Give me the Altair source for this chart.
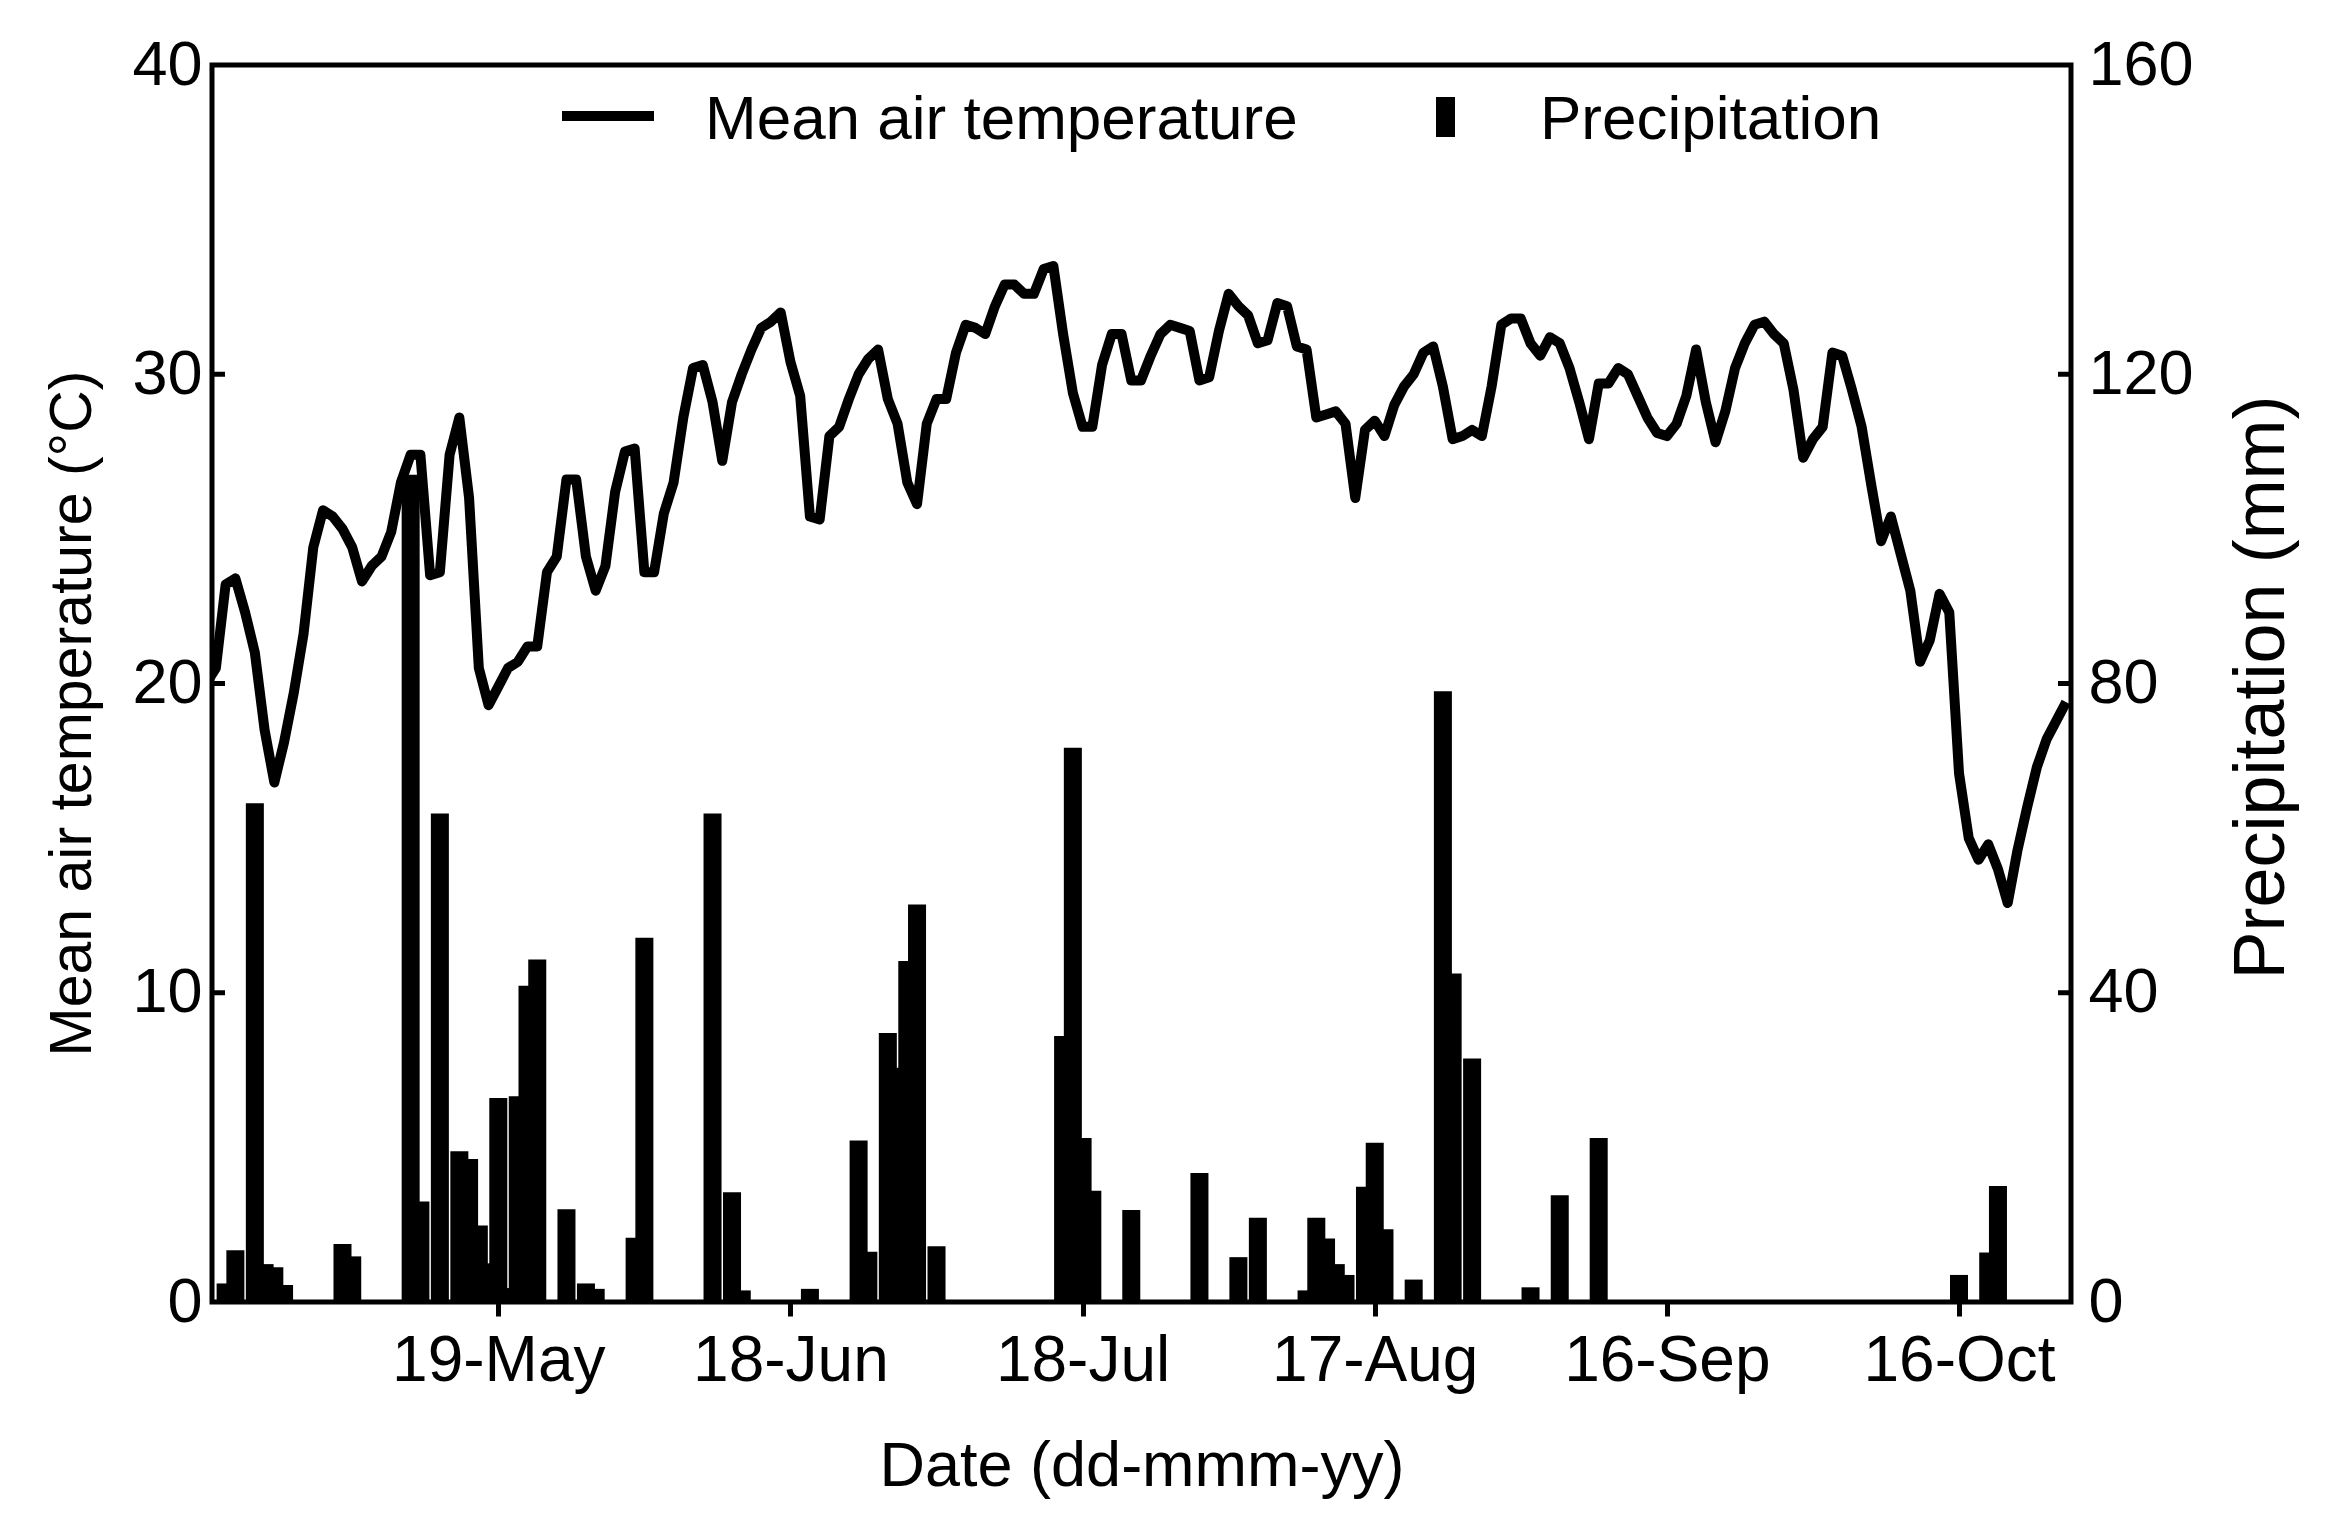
import altair as alt
import pandas as pd

FONT = "Liberation Sans"
START_DATE = "2017-04-19"

# Daily mean air temperature (deg C), one value per day from START_DATE
temperature = [
    20.0, 20.5, 23.2, 23.4, 22.3, 21.0, 18.5, 16.8, 18.1, 19.7,
    21.6, 24.4, 25.6, 25.4, 25.0, 24.4, 23.3, 23.8, 24.1, 24.9,
    26.5, 27.4, 27.4, 23.5, 23.6, 27.4, 28.6, 26.0, 20.5, 19.3,
    19.9, 20.5, 20.7, 21.2, 21.2, 23.6, 24.1, 26.6, 26.6, 24.1,
    23.0, 23.8, 26.2, 27.5, 27.6, 23.6, 23.6, 25.5, 26.5, 28.6,
    30.2, 30.3, 29.1, 27.2, 29.1, 30.0, 30.8, 31.5, 31.7, 32.0,
    30.4, 29.3, 25.4, 25.3, 28.0, 28.3, 29.2, 30.0, 30.5, 30.8,
    29.2, 28.4, 26.5, 25.8, 28.4, 29.2, 29.2, 30.7, 31.6, 31.5,
    31.3, 32.2, 32.9, 32.9, 32.6, 32.6, 33.4, 33.5, 31.3, 29.4,
    28.3, 28.3, 30.3, 31.3, 31.3, 29.8, 29.8, 30.6, 31.3, 31.6,
    31.5, 31.4, 29.8, 29.9, 31.4, 32.6, 32.2, 31.9, 31.0, 31.1,
    32.3, 32.2, 30.9, 30.8, 28.6, 28.7, 28.8, 28.4, 26.0, 28.2,
    28.5, 28.0, 29.0, 29.6, 30.0, 30.7, 30.9, 29.6, 27.9, 28.0,
    28.2, 28.0, 29.6, 31.6, 31.8, 31.8, 31.0, 30.6, 31.2, 31.0,
    30.2, 29.1, 27.9, 29.7, 29.7, 30.2, 30.0, 29.3, 28.6, 28.1,
    28.0, 28.4, 29.3, 30.8, 29.1, 27.8, 28.8, 30.2, 31.0, 31.6,
    31.7, 31.3, 31.0, 29.5, 27.3, 27.9, 28.3, 30.7, 30.6, 29.5,
    28.3, 26.4, 24.6, 25.4, 24.2, 23.0, 20.7, 21.4, 22.9, 22.3,
    17.1, 15.0, 14.3, 14.8, 14.0, 12.9, 14.6, 16.0, 17.3, 18.2,
    18.8, 19.4,
]

# Daily precipitation (mm), same days
precipitation = [
    0, 0, 2.4, 6.7, 0, 64.5, 4.9, 4.5, 2.2, 0,
    0, 0, 0, 0, 7.5, 5.9, 0, 0, 0, 0,
    0, 107.0, 13.0, 0, 63.2, 0, 19.5, 18.5, 9.9, 5.0,
    26.4, 1.8, 26.6, 40.9, 44.3, 0, 0, 12.0, 0, 2.4,
    1.7, 0, 0, 0, 8.3, 47.1, 0, 0, 0, 0,
    0, 0, 63.2, 0, 14.2, 1.5, 0, 0, 0, 0,
    0, 0, 1.7, 0, 0, 0, 0, 20.9, 6.5, 0,
    34.8, 30.3, 44.1, 51.4, 0, 7.2, 0, 0, 0, 0,
    0, 0, 0, 0, 0, 0, 0, 0, 34.4, 71.7,
    21.2, 14.4, 0, 0, 0, 11.9, 0, 0, 0, 0,
    0, 0, 16.7, 0, 0, 0, 5.8, 0, 10.9, 0,
    0, 0, 0, 1.5, 10.9, 8.2, 4.9, 3.5, 0, 14.9,
    20.6, 9.4, 0, 0, 2.9, 0, 0, 79.0, 42.5, 0,
    31.5, 0, 0, 0, 0, 0, 1.9, 0, 0, 13.8,
    0, 0, 0, 21.2, 0, 0, 0, 0, 0, 0,
    0, 0, 0, 0, 0, 0, 0, 0, 0, 0,
    0, 0, 0, 0, 0, 0, 0, 0, 0, 0,
    0, 0, 0, 0, 0, 0, 0, 0, 0, 0,
    3.5, 0, 0, 6.4, 15.0, 0, 0, 0, 0, 0,
    0, 0,
]

tick_days = [(5, 19), (6, 18), (7, 18), (8, 17), (9, 16), (10, 16)]
temp_ticks = [0, 10, 20, 30, 40]
precip_ticks = [0, 40, 80, 120, 160]
inner_temp_ticks = [10, 20, 30]
inner_precip_ticks = [40, 80, 120]

assert len(temperature) == len(precipitation)

W, H = 1859, 1237
BAR_WIDTH_DAYS = 1.85

dates = pd.date_range(START_DATE, periods=len(temperature), freq="D")
df = pd.DataFrame({"date": dates, "temp": temperature, "precip": precipitation})
half = pd.Timedelta(days=BAR_WIDTH_DAYS / 2)
df["bar_start"] = df["date"] - half
df["bar_end"] = df["date"] + half

x_domain = [
    alt.DateTime(year=2017, month=4, date=19, hours=14, minutes=24),
    alt.DateTime(year=2017, month=10, date=27, hours=12),
]
tick_dates = [alt.DateTime(year=2017, month=m, date=d) for m, d in tick_days]

x_scale = alt.Scale(domain=x_domain, nice=False)
x_axis = alt.Axis(
    values=tick_dates, format="%d-%b", title="Date (dd-mmm-yy)",
    grid=False, domain=False, ticks=True, tickSize=14, tickWidth=5,
    tickColor="black", labelColor="black", labelFont=FONT, labelFontSize=64,
    labelPadding=13, labelLimit=1000, titleFont=FONT, titleFontSize=63,
    titleFontWeight="normal", titleColor="black", titleBaseline="alphabetic",
    titleY=183, labelFlush=False,
)

temp_scale = alt.Scale(domain=[0, 40], nice=False)
precip_scale = alt.Scale(domain=[0, 160], nice=False)

left_axis = alt.Axis(
    orient="left", values=temp_ticks, grid=False, domain=False, ticks=False,
    tickSize=0, labelPadding=10, labelColor="black", labelFont=FONT,
    labelFontSize=63, title="Mean air temperature (°C)", titleFont=FONT,
    titleFontSize=59, titleFontWeight="normal", titleColor="black",
    titleAngle=270, titleBaseline="alphabetic", titleX=-122, titleY=648,
    titleAlign="center", titleLimit=2000,
)
right_axis = alt.Axis(
    orient="right", values=precip_ticks, grid=False, domain=False, ticks=False,
    tickSize=0, labelPadding=17, labelColor="black", labelFont=FONT,
    labelFontSize=63, title="Precipitation (mm)", titleFont=FONT,
    titleFontSize=72, titleFontWeight="normal", titleColor="black",
    titleAngle=270, titleBaseline="alphabetic", titleX=212, titleY=622,
    titleAlign="center", titleLimit=2000,
)

bars = alt.Chart(df).transform_filter("datum.precip > 0").mark_rect(
    color="black", clip=True
).encode(
    x=alt.X("bar_start:T", scale=x_scale, axis=x_axis),
    x2="bar_end:T",
    y=alt.Y("precip:Q", scale=precip_scale, axis=right_axis),
    y2=alt.datum(0),
)

line = alt.Chart(df).mark_line(
    color="black", strokeWidth=10, strokeJoin="round", clip=True
).encode(
    x=alt.X("date:T", scale=x_scale, axis=x_axis),
    y=alt.Y("temp:Q", scale=temp_scale, axis=left_axis),
)

left_ticks = alt.Chart(pd.DataFrame({"v": inner_temp_ticks})).mark_rule(
    color="black", strokeWidth=5
).encode(
    y=alt.Y("v:Q", scale=temp_scale, axis=None),
    x=alt.value(0), x2=alt.value(13),
)
right_ticks = alt.Chart(pd.DataFrame({"v": inner_precip_ticks})).mark_rule(
    color="black", strokeWidth=5
).encode(
    y=alt.Y("v:Q", scale=precip_scale, axis=None),
    x=alt.value(W - 13), x2=alt.value(W),
)

one = alt.Data(values=[{"k": 1}])
leg_line = alt.Chart(one).mark_rule(color="black", strokeWidth=10).encode(
    x=alt.value(350), x2=alt.value(442), y=alt.value(51)
)
leg_bar = alt.Chart(one).mark_rect(color="black").encode(
    x=alt.value(1224), x2=alt.value(1243), y=alt.value(32), y2=alt.value(72)
)
leg_text1 = alt.Chart(one).mark_text(
    text="Mean air temperature", align="left", baseline="alphabetic",
    font=FONT, fontSize=62, color="black"
).encode(x=alt.value(493), y=alt.value(74))
leg_text2 = alt.Chart(one).mark_text(
    text="Precipitation", align="left", baseline="alphabetic",
    font=FONT, fontSize=62, color="black"
).encode(x=alt.value(1328), y=alt.value(74))

chart = alt.layer(
    bars, line, left_ticks, right_ticks, leg_line, leg_bar, leg_text1, leg_text2
).resolve_scale(y="independent").properties(
    width=W, height=H,
    padding={"left": 204, "top": 57, "right": 258, "bottom": 216},
    autosize=alt.AutoSizeParams(type="none"),
    background="white",
).configure_view(stroke="black", strokeWidth=5)

chart.save("out.html", embed_options={"renderer": "svg", "actions": False})
